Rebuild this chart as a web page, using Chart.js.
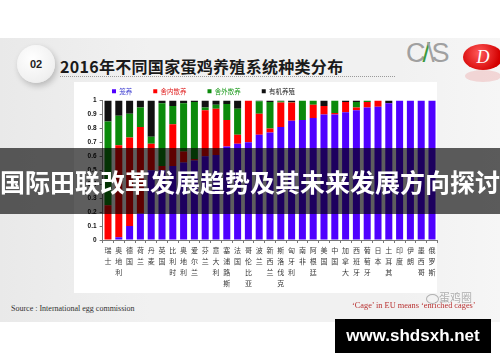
<!DOCTYPE html>
<html>
<head>
<meta charset="utf-8">
<script src="https://cdn.jsdelivr.net/npm/chart.js"></script>
<style>
  body { margin: 0; width: 500px; height: 362px; overflow: hidden; background: #fff; position: relative; font-family: "Noto Sans CJK SC", sans-serif; }
  .abs { position: absolute; }
  #slide { left: 0; top: 38px; width: 500px; height: 284px; background: linear-gradient(90deg, #e9e9e9, #f1f1f1 30%, #f1f1f1 80%, #f6f6f6); }
  #badge { left: 17px; top: 45px; width: 38px; height: 38px; border-radius: 50%; background: radial-gradient(circle at 40% 35%, #fff, #f0f0f0 70%, #ddd); box-shadow: 2px 3px 6px rgba(0,0,0,0.22); font: bold 11px "Liberation Sans", sans-serif; color: #222; line-height: 38px; text-align: center; }
  #title { left: 60px; top: 56px; font-weight: bold; font-size: 16px; line-height: 20px; color: #1a1a1a; letter-spacing: 0.3px; white-space: nowrap; }
  #rule { left: 60px; top: 76px; width: 335px; border-top: 1px dotted #9a9a9a; }
  #logo { left: 406px; top: 38px; font: 300 27px "Liberation Sans", sans-serif; color: #a0a0a0; letter-spacing: -3px; }
  #logo span { color: #3c9a3c; }
  #oval { left: 463px; top: 44px; width: 40px; height: 26px; border-radius: 50%; background: radial-gradient(circle at 40% 35%, #ff5a5a, #d40000 70%); color: #fff; font: italic 18px "Liberation Serif", serif; line-height: 26px; text-align: center; }
  #ovalShadow { left: 465px; top: 70px; width: 36px; height: 12px; border-radius: 50%; background: rgba(230,120,120,0.25); }
  #panel { left: 74px; top: 82px; width: 363px; height: 211px; background: #fff; }
  #wrap { left: 70px; top: 63px; width: 370px; height: 229px; }
  #banner { left: 0; top: 148px; width: 500px; height: 66px; background: rgba(0,0,0,0.63); color: #fff; font-weight: bold; font-size: 25px; line-height: 66px; text-align: center; white-space: nowrap; }
  #source { left: 11px; top: 303px; font: 8px "Liberation Serif", serif; color: #333; line-height: 12px; white-space: nowrap; }
  #note { left: 352px; top: 300px; font: 8.3px "Liberation Serif", serif; color: #b83030; line-height: 12px; white-space: nowrap; }
  #wm { left: 428px; top: 290px; font-size: 11px; color: rgba(160,160,160,0.85); line-height: 14px; text-shadow: 0 0 2px #fff; }
  #wmIcon { left: 426px; top: 294px; width: 11px; height: 8px; border: 1px solid rgba(170,170,170,0.9); border-radius: 50%; }
  #site { left: 335px; top: 319px; width: 156px; height: 34px; background: #000; color: #fff; font: bold 17px "Liberation Sans", sans-serif; line-height: 34px; text-align: center; }
</style>
</head>
<body>
<div id="slide" class="abs"></div>
<div id="badge" class="abs">02</div>
<div id="title" class="abs">2016年不同国家蛋鸡养殖系统种类分布</div>
<div id="rule" class="abs"></div>
<div id="logo" class="abs">C<span>/</span>\S</div>
<div id="ovalShadow" class="abs"></div>
<div id="oval" class="abs">D</div>
<div id="panel" class="abs"></div>
<div id="wrap" class="abs"><canvas id="chart"></canvas></div>
<div id="banner" class="abs">国际田联改革发展趋势及其未来发展方向探讨</div>
<div id="source" class="abs">Source : International egg commission</div>
<div id="note" class="abs">‘Cage’ in EU means ‘enriched cages’</div>
<div id="wmIcon" class="abs"></div>
<div id="wm" class="abs">　蛋鸡圈</div>
<div id="site" class="abs">www.shdsxh.net</div>

<script>
const countries = ['瑞士', '奥地利', '德国', '荷兰', '丹麦', '英国', '比利时', '奥地利', '爱尔兰', '芬兰',
  '意大利', '塞浦路斯', '法国', '哥伦比亚', '波兰', '新西兰', '斯洛伐克', '匈牙利', '南非', '阿根廷',
  '美国', '中国', '加拿大', '西班牙', '葡萄牙', '日本', '土耳其', '印度', '伊朗', '墨西哥', '俄罗斯'];

const seriesNames = ['笼养', '舍内散养', '舍外散养', '有机养殖'];

// shares per country, bottom of the stack first
const cage      = [0, 0.02, 0.10, 0.19, 0.50, 0.50, 0.53, 0.555, 0.57, 0.60,
  0.61, 0.67, 0.69, 0.70, 0.755, 0.77, 0.81, 0.855, 0.86, 0.875,
  0.90, 0.90, 0.915, 0.93, 0.95, 0.955, 0.98, 1, 1, 1, 1];
const barn      = [0.25, 0.66, 0.635, 0.62, 0.19, 0.03, 0.30, 0.08, 0.01, 0.33,
  0.33, 0.19, 0.065, 0.30, 0.15, 0.03, 0.175, 0.13, 0, 0.095,
  0.06, 0.01, 0.075, 0.02, 0.04, 0.045, 0, 0, 0, 0, 0];
const freeRange = [0.60, 0.21, 0.17, 0.14, 0.05, 0.45, 0.13, 0.345, 0.41, 0.02,
  0.03, 0.115, 0.185, 0, 0.09, 0.19, 0.01, 0.005, 0.14, 0.03,
  0, 0.09, 0, 0.04, 0.01, 0, 0, 0, 0, 0, 0];
const organic   = [0.15, 0.11, 0.095, 0.05, 0.26, 0.02, 0.04, 0.02, 0.01, 0.05,
  0.03, 0.025, 0.06, 0, 0.005, 0.01, 0.005, 0.01, 0, 0,
  0.04, 0, 0.01, 0.01, 0, 0, 0.02, 0, 0, 0, 0];

const yTickLabels = ['0', '0.1', '0.2', '0.3', '0.4', '0.5', '0.6', '0.7', '0.8', '0.9', '1'];

const barColors = ['#5000ff', '#ff0000', '#0b8a0b', '#111111'];
const legendTextColors = ['#3a3ad0', '#e02020', '#1a9a1a', '#222222'];

// the legend row sits right of the axis, a bit lower than chart.js puts it
const legendNudge = {
  id: 'legendNudge',
  afterLayout(chart) {
    const lg = chart.legend;
    lg.left += 21; lg.right += 21;
    lg.top += 4; lg.bottom += 4;
  }
};

const series = [cage, barn, freeRange, organic];

new Chart(document.getElementById('chart'), {
  type: 'bar',
  data: {
    labels: countries.map(c => c.split('')),
    datasets: series.map((values, i) => ({
      label: seriesNames[i],
      data: values,
      backgroundColor: barColors[i],
      borderWidth: 0,
      barPercentage: 0.65,
      categoryPercentage: 1
    }))
  },
  options: {
    responsive: true,
    maintainAspectRatio: false,
    animation: false,
    layout: { padding: { right: 2.6, bottom: 1 } },
    plugins: {
      tooltip: { enabled: false },
      legend: {
        align: 'start',
        labels: {
          boxWidth: 4,
          boxHeight: 4,
          padding: 21,
          font: { size: 6.5, family: 'Noto Sans CJK SC' },
          generateLabels: function(chart) {
            return chart.data.datasets.map((ds, i) => ({
              text: ds.label,
              fillStyle: ds.backgroundColor,
              strokeStyle: ds.backgroundColor,
              lineWidth: 0,
              fontColor: legendTextColors[i],
              hidden: false,
              datasetIndex: i
            }));
          }
        }
      }
    },
    scales: {
      x: {
        stacked: true,
        grid: { drawOnChartArea: false, tickLength: 3, color: '#777' },
        border: { color: '#777' },
        ticks: {
          autoSkip: false,
          maxRotation: 0,
          padding: 2,
          color: '#3a3a3a',
          font: { size: 7, family: 'Noto Sans CJK SC', lineHeight: '11px' }
        }
      },
      y: {
        stacked: true,
        min: 0,
        max: 1,
        afterFit: function(scale) { scale.width = 32.6; },
        grid: { drawOnChartArea: false, tickLength: 3, color: '#777' },
        border: { color: '#777' },
        ticks: {
          stepSize: 0.1,
          padding: 3,
          color: '#111',
          font: { size: 6.5, weight: 'bold', family: 'Liberation Sans' },
          callback: function(value, index) { return yTickLabels[index]; }
        }
      }
    }
  },
  plugins: [legendNudge]
});
</script>
</body>
</html>
